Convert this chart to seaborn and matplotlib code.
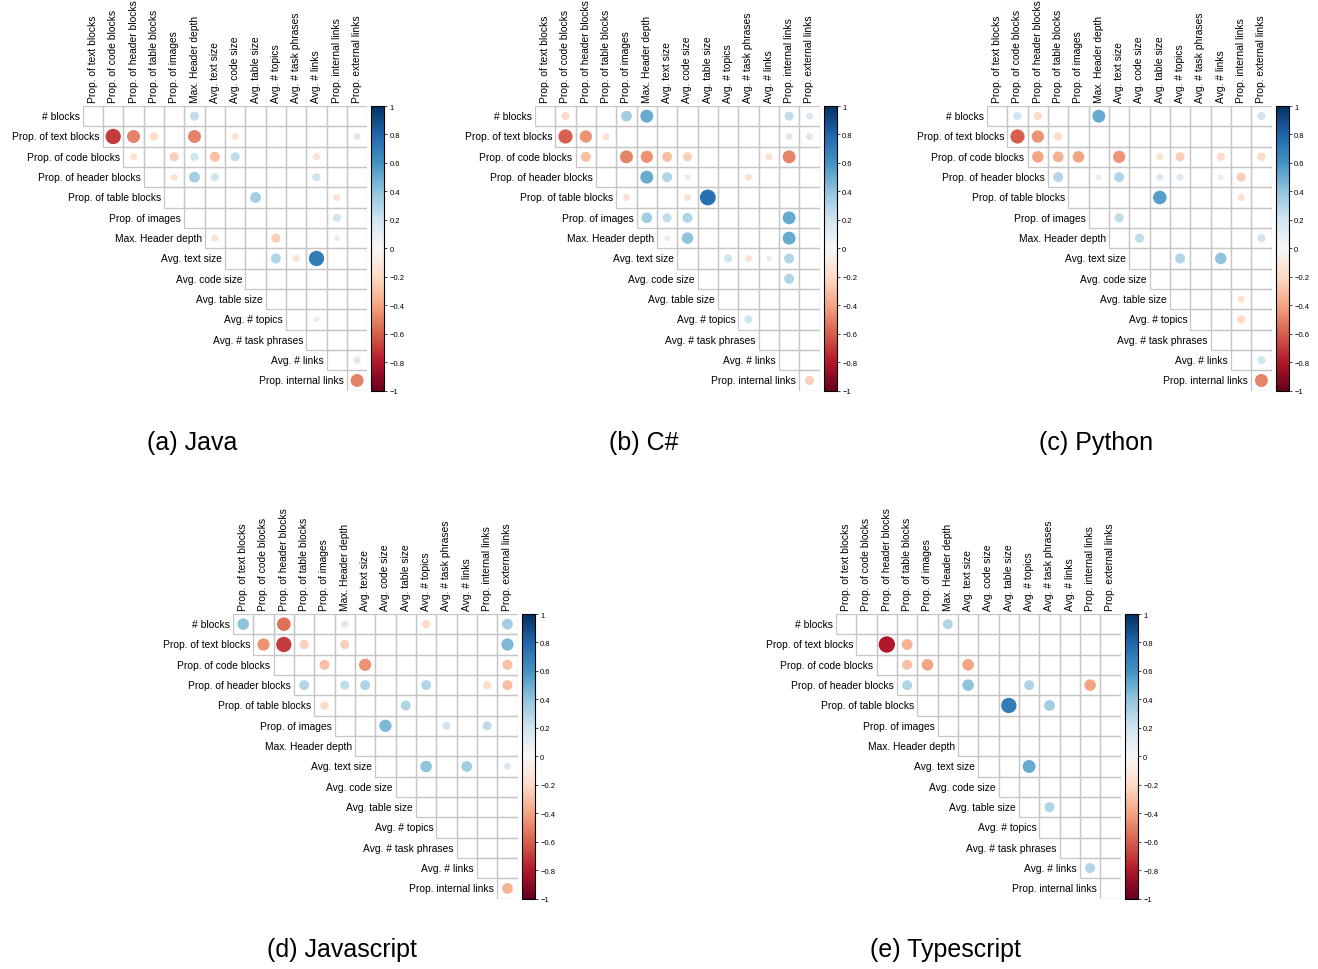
import numpy as np
import pandas as pd
import seaborn as sns
import matplotlib.pyplot as plt
from matplotlib.patches import Rectangle

# variables of the correlation matrices (rows use 0..13, columns use 1..14)
variables = ["# blocks", "Prop. of text blocks", "Prop. of code blocks",
             "Prop. of header blocks", "Prop. of table blocks", "Prop. of images",
             "Max. Header depth", "Avg. text size", "Avg. code size",
             "Avg. table size", "Avg. # topics", "Avg. # task phrases",
             "Avg. # links", "Prop. internal links", "Prop. external links"]

# significant correlations: (row variable, column variable, r)
java = [(0, 6, 0.25),
        (1, 2, -0.7), (1, 3, -0.5), (1, 4, -0.2), (1, 6, -0.5), (1, 8, -0.15), (1, 14, 0.15),
        (2, 3, -0.15), (2, 5, -0.25), (2, 6, 0.2), (2, 7, -0.3), (2, 8, 0.25), (2, 12, -0.15),
        (3, 5, -0.15), (3, 6, 0.35), (3, 7, 0.2), (3, 12, 0.2),
        (4, 9, 0.35), (4, 13, -0.15),
        (5, 13, 0.2),
        (6, 7, -0.15), (6, 10, -0.25), (6, 13, 0.1),
        (7, 10, 0.3), (7, 11, -0.15), (7, 12, 0.7),
        (10, 12, 0.1),
        (12, 14, 0.15),
        (13, 14, -0.5)]

csharp = [(0, 2, -0.2), (0, 5, 0.35), (0, 6, 0.5), (0, 13, 0.25), (0, 14, 0.15),
          (1, 2, -0.6), (1, 3, -0.45), (1, 4, -0.15), (1, 13, 0.15), (1, 14, 0.15),
          (2, 3, -0.3), (2, 5, -0.5), (2, 6, -0.45), (2, 7, -0.3), (2, 8, -0.25), (2, 12, -0.15), (2, 13, -0.5),
          (3, 6, 0.5), (3, 7, 0.3), (3, 8, 0.1), (3, 11, -0.15),
          (4, 5, -0.15), (4, 8, -0.15), (4, 9, 0.75),
          (5, 6, 0.35), (5, 7, 0.25), (5, 8, 0.3), (5, 13, 0.5),
          (6, 7, 0.1), (6, 8, 0.4), (6, 13, 0.5),
          (7, 10, 0.2), (7, 11, -0.15), (7, 12, 0.1), (7, 13, 0.3),
          (8, 13, 0.3),
          (10, 11, 0.2),
          (13, 14, -0.25)]

python = [(0, 2, 0.2), (0, 3, -0.2), (0, 6, 0.5), (0, 14, 0.2),
          (1, 2, -0.6), (1, 3, -0.45), (1, 4, -0.2),
          (2, 3, -0.4), (2, 4, -0.35), (2, 5, -0.4), (2, 7, -0.45), (2, 9, -0.15), (2, 10, -0.25),
          (2, 12, -0.2), (2, 14, -0.2),
          (3, 4, 0.3), (3, 6, 0.1), (3, 7, 0.3), (3, 9, 0.15), (3, 10, 0.15), (3, 12, 0.1), (3, 13, -0.25),
          (4, 9, 0.55), (4, 13, -0.15),
          (5, 7, 0.25),
          (6, 8, 0.25), (6, 14, 0.2),
          (7, 10, 0.3), (7, 12, 0.4),
          (9, 13, -0.15),
          (10, 13, -0.2),
          (12, 14, 0.2),
          (13, 14, -0.5)]

javascript = [(0, 1, 0.4), (0, 3, -0.55), (0, 6, 0.15), (0, 10, -0.2), (0, 14, 0.35),
              (1, 2, -0.45), (1, 3, -0.7), (1, 4, -0.25), (1, 6, -0.25), (1, 14, 0.45),
              (2, 5, -0.3), (2, 7, -0.45), (2, 14, -0.3),
              (3, 4, 0.3), (3, 6, 0.25), (3, 7, 0.3), (3, 10, 0.3), (3, 13, -0.2), (3, 14, -0.3),
              (4, 5, -0.2), (4, 9, 0.3),
              (5, 8, 0.45), (5, 11, 0.2), (5, 13, 0.25),
              (7, 10, 0.4), (7, 12, 0.35), (7, 14, 0.15),
              (13, 14, -0.35)]

typescript = [(0, 6, 0.3),
              (1, 3, -0.8), (1, 4, -0.35),
              (2, 4, -0.3), (2, 5, -0.4), (2, 7, -0.4),
              (3, 4, 0.3), (3, 7, 0.4), (3, 10, 0.3), (3, 13, -0.4),
              (4, 9, 0.7), (4, 11, 0.35),
              (7, 10, 0.5),
              (9, 11, 0.3),
              (12, 13, 0.3)]

captions = ["(a) Java", "(b) C#", "(c) Python", "(d) Javascript", "(e) Typescript"]
cbar_ticks = [1, 0.8, 0.6, 0.4, 0.2, 0, -0.2, -0.4, -0.6, -0.8, -1]

W, H = 1318, 970
CELL = 20.33
N = 14

# layout in pixels: grid left, grid top, caption x, caption y
layout = [(82.7, 107, 192, 443),
          (535, 107, 644, 443),
          (987, 107, 1096, 443),
          (233, 615, 342, 950),
          (836, 615, 945, 950)]

sns.set_style("white")
plt.rcParams['font.family'] = ['Liberation Sans', 'DejaVu Sans']
plt.rcParams['text.color'] = 'black'
plt.rcParams['ytick.color'] = 'black'
plt.rcParams['ytick.labelcolor'] = 'black'

fig = plt.figure(figsize=(W / 100, H / 100), dpi=100)

cell_pt = CELL * 72 / 100
smax = (0.9 * cell_pt) ** 2

for cells, cap, (gx, gy, cx, cy) in zip([java, csharp, python, javascript, typescript], captions, layout):
    ax = fig.add_axes([gx / W, 1 - (gy + N * CELL) / H, N * CELL / W, N * CELL / H])

    for i in range(N):
        for j in range(i, N):
            ax.add_patch(Rectangle((j, i), 1, 1, fill=False, edgecolor='#c6c6c6', lw=0.9, zorder=1))
        ax.text(i - 0.15, i + 0.5, variables[i], ha='right', va='center', fontsize=7.4)
        ax.text(i + 0.5, -0.2, variables[i + 1], rotation=90, ha='center', va='bottom', fontsize=7.4)

    df = pd.DataFrame(cells, columns=['a', 'b', 'r'])
    df['x'] = df['b'] - 1 + 0.5
    df['y'] = df['a'] + 0.5
    df['mag'] = df['r'].abs()
    sns.scatterplot(data=df, x='x', y='y', hue='r', size='mag', palette='RdBu',
                    hue_norm=(-1, 1), sizes=(0, smax), size_norm=(0, 1),
                    linewidth=0, legend=False, ax=ax, zorder=3)
    ax.set_xlim(0, N)
    ax.set_ylim(N, 0)
    ax.axis('off')

    cax = fig.add_axes([(gx + N * CELL + 4) / W, 1 - (gy + N * CELL) / H, 13 / W, N * CELL / H])
    sm = plt.cm.ScalarMappable(cmap='RdBu', norm=plt.Normalize(-1, 1))
    cb = fig.colorbar(sm, cax=cax, ticks=cbar_ticks)
    cb.ax.set_yticklabels([('%g' % t).replace('-', '\u2212') for t in cbar_ticks])
    cb.ax.tick_params(labelsize=5.5, length=2, width=0.5, pad=2, colors='black')
    cb.outline.set_linewidth(0.8)
    cb.outline.set_edgecolor('black')

    fig.text(cx / W, 1 - cy / H, cap, ha='center', va='center', fontsize=18)

fig.savefig("out.png", dpi=100)
